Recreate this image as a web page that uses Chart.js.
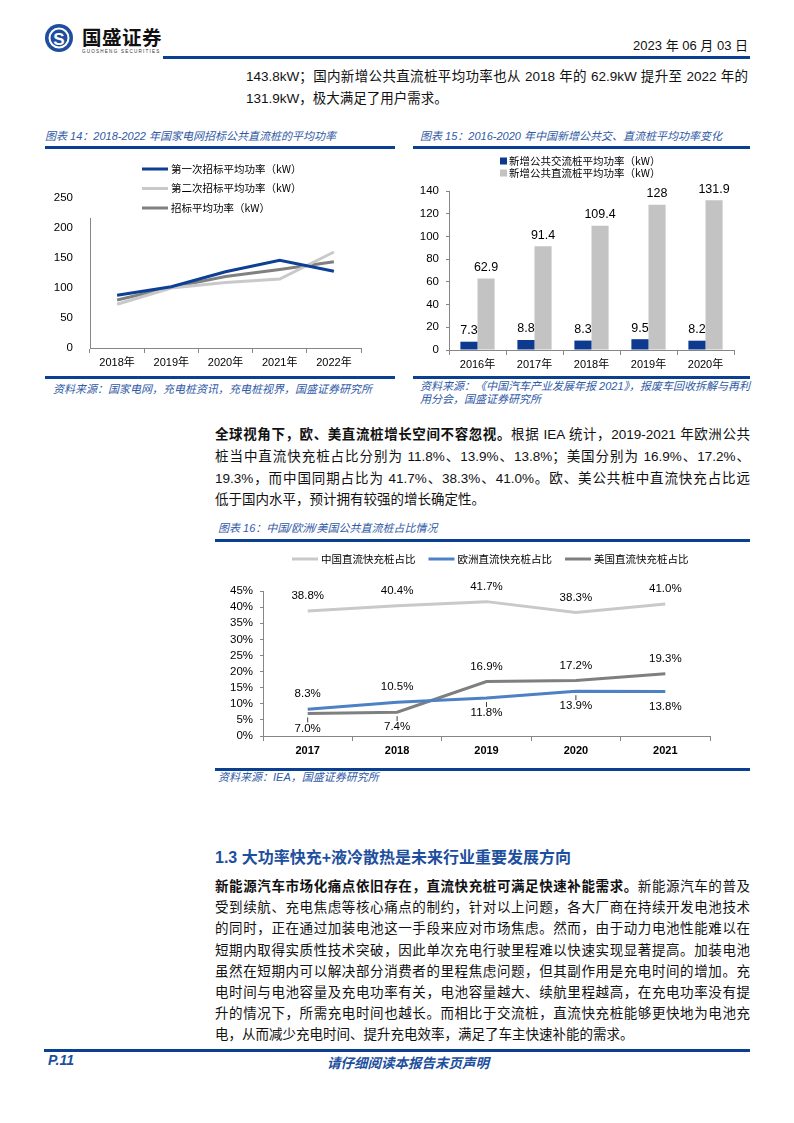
<!DOCTYPE html>
<html>
<head>
<meta charset="utf-8">
<script src="https://cdn.jsdelivr.net/npm/chart.js@4.4.0/dist/chart.umd.min.js"></script>
<style>
body { margin: 0; width: 794px; height: 1123px; position: relative; background: #fff; color: #111;
  font-family: 'Liberation Sans', 'Noto Sans CJK SC', sans-serif; }
.rule { position: absolute; height: 2.5px; background: #0b3f91; }
.cap { position: absolute; font-size: 11px; font-style: italic; color: #2f5aa6; white-space: nowrap; line-height: 13px; }
.para { position: absolute; font-size: 13.5px; line-height: 21.8px; }
.para div { text-align: justify; text-align-last: justify; white-space: nowrap; }
.para div.last { text-align-last: left; }
canvas { position: absolute; }
</style>
</head>
<body>

<!-- header -->
<svg style="position:absolute;left:40px;top:22px" width="130" height="36">
  <circle cx="19" cy="16" r="14" fill="#1f4ea0"/>
  <circle cx="19" cy="16" r="9.5" fill="none" stroke="#fff" stroke-width="2"/>
  <text x="19" y="22.5" text-anchor="middle" font-size="17" font-weight="bold" fill="#fff" font-family="Liberation Sans">S</text>
  <text x="42" y="23" font-size="19.5" font-weight="bold" fill="#111" font-family="Noto Sans CJK SC" letter-spacing="0.5">国盛证券</text>
  <text x="42" y="31" font-size="4.6" fill="#333" font-family="Liberation Sans" letter-spacing="1.2">GUOSHENG SECURITIES</text>
</svg>
<div style="position:absolute;right:46px;top:38px;font-size:13px;line-height:16px">2023 年 06 月 03 日</div>
<div class="rule" style="left:163px;width:587px;top:56px"></div>

<div class="para" style="left:246px;width:502px;top:66px">
  <div>143.8kW；国内新增公共直流桩平均功率也从 2018 年的 62.9kW 提升至 2022 年的</div>
  <div class="last">131.9kW，极大满足了用户需求。</div>
</div>

<!-- figure 14 -->
<div class="cap" style="left:45px;top:130px">图表 14：2018-2022 年国家电网招标公共直流桩的平均功率</div>
<div class="rule" style="left:45px;width:350px;top:146px"></div>
<canvas id="c14" width="350" height="225" style="left:45px;top:150px"></canvas>
<div class="rule" style="left:45px;width:350px;top:376px"></div>
<div class="cap" style="left:53px;top:383px">资料来源：国家电网，充电桩资讯，充电桩视界，国盛证券研究所</div>

<!-- figure 15 -->
<div class="cap" style="left:420px;top:130px">图表 15：2016-2020 年中国新增公共交、直流桩平均功率变化</div>
<div class="rule" style="left:413px;width:337px;top:146px"></div>
<canvas id="c15" width="337" height="225" style="left:413px;top:150px"></canvas>
<div class="rule" style="left:413px;width:337px;top:376px"></div>
<div class="cap" style="left:420px;top:379.5px">资料来源：《中国汽车产业发展年报 2021》，报废车回收拆解与再利<br>用分会，国盛证券研究所</div>

<div class="para" style="left:215px;width:535px;top:424px">
  <div><b>全球视角下，欧、美直流桩增长空间不容忽视。</b>根据 IEA 统计，2019-2021 年欧洲公共</div>
  <div>桩当中直流快充桩占比分别为 11.8%、13.9%、13.8%；美国分别为 16.9%、17.2%、</div>
  <div>19.3%，而中国同期占比为 41.7%、38.3%、41.0%。欧、美公共桩中直流快充占比远</div>
  <div class="last">低于国内水平，预计拥有较强的增长确定性。</div>
</div>

<!-- figure 16 -->
<div class="cap" style="left:218px;top:522px">图表 16：中国/欧洲/美国公共直流桩占比情况</div>
<div class="rule" style="left:215px;width:535px;top:539px"></div>
<canvas id="c16" width="535" height="222" style="left:215px;top:545px"></canvas>
<div class="rule" style="left:215px;width:535px;top:768px"></div>
<div class="cap" style="left:218px;top:771px">资料来源：IEA，国盛证券研究所</div>

<div style="position:absolute;left:215px;top:847px;font-size:16px;line-height:22px;font-weight:bold;color:#1d4f9e">1.3 大功率快充+液冷散热是未来行业重要发展方向</div>

<div class="para" style="left:215px;width:535px;top:876px;line-height:21.2px">
  <div><b>新能源汽车市场化痛点依旧存在，直流快充桩可满足快速补能需求。</b>新能源汽车的普及</div>
  <div>受到续航、充电焦虑等核心痛点的制约，针对以上问题，各大厂商在持续开发电池技术</div>
  <div>的同时，正在通过加装电池这一手段来应对市场焦虑。然而，由于动力电池性能难以在</div>
  <div>短期内取得实质性技术突破，因此单次充电行驶里程难以快速实现显著提高。加装电池</div>
  <div>虽然在短期内可以解决部分消费者的里程焦虑问题，但其副作用是充电时间的增加。充</div>
  <div>电时间与电池容量及充电功率有关，电池容量越大、续航里程越高，在充电功率没有提</div>
  <div>升的情况下，所需充电时间也越长。而相比于交流桩，直流快充桩能够更快地为电池充</div>
  <div class="last">电，从而减少充电时间、提升充电效率，满足了车主快速补能的需求。</div>
</div>

<!-- footer -->
<div class="rule" style="left:44px;width:706px;top:1049px"></div>
<div style="position:absolute;left:48px;top:1052px;font-size:14px;font-weight:bold;font-style:italic;color:#1d4f9e">P.11</div>
<div style="position:absolute;left:327px;top:1052px;font-size:13.5px;font-weight:bold;font-style:italic;color:#1d4f9e">请仔细阅读本报告末页声明</div>

<script>
// figure 14: bid average power
const years14 = ['2018年', '2019年', '2020年', '2021年', '2022年'];
const firstBid = [88, 102, 127, 146, 128];
const secondBid = [73, 100, 109, 115, 160];
const avgBid = [80, 101, 119, 131, 143.8];

// figure 15: new public AC / DC charger power
const years15 = ['2016年', '2017年', '2018年', '2019年', '2020年'];
const acPower = [7.3, 8.8, 8.3, 9.5, 8.2];
const dcPower = [62.9, 91.4, 109.4, 128, 131.9];

// figure 16: DC fast charger share
const years16 = ['2017', '2018', '2019', '2020', '2021'];
const chinaShare = [38.8, 40.4, 41.7, 38.3, 41.0];
const europeShare = [8.3, 10.5, 11.8, 13.9, 13.8];
const usShare = [7.0, 7.4, 16.9, 17.2, 19.3];

Chart.defaults.font.family = "'Liberation Sans', 'Noto Sans CJK SC', sans-serif";
Chart.defaults.color = '#000';

const axisGray = '#868686';

// legend drawn by hand so it can sit inside the plot like the original
const keyLegend = {
  id: 'keyLegend',
  afterDraw(chart, args, o) {
    const ctx = chart.ctx;
    ctx.save();
    if (o.cover) {
      ctx.fillStyle = '#fff';
      ctx.fillRect(o.cover[0], o.cover[1], o.cover[2], o.cover[3]);
    }
    ctx.font = o.font;
    ctx.textBaseline = 'middle';
    ctx.textAlign = 'left';
    chart.data.datasets.forEach((ds, i) => {
      const x = o.x + o.dx * i, y = o.y + o.dy * i;
      if (o.box) {
        ctx.fillStyle = ds.backgroundColor;
        ctx.fillRect(x, y - o.box / 2, o.box, o.box);
      } else {
        ctx.strokeStyle = ds.borderColor;
        ctx.lineWidth = ds.borderWidth;
        ctx.beginPath();
        ctx.moveTo(x, y);
        ctx.lineTo(x + o.len, y);
        ctx.stroke();
      }
      ctx.fillStyle = '#000';
      ctx.fillText(ds.label, x + (o.box || o.len) + o.gap, y);
    });
    ctx.restore();
  }
};

// value labels above / below each point or bar
const valueLabels = {
  id: 'valueLabels',
  afterDatasetsDraw(chart, args, o) {
    const ctx = chart.ctx;
    ctx.save();
    ctx.font = o.font;
    ctx.fillStyle = '#000';
    ctx.textAlign = 'center';
    ctx.textBaseline = 'middle';
    chart.data.datasets.forEach((ds, i) => {
      chart.getDatasetMeta(i).data.forEach((el, j) => {
        const v = ds.data[j];
        const txt = (o.fixed != null ? v.toFixed(o.fixed) : String(v)) + (o.suffix || '');
        const below = ds.labelPos && ds.labelPos[j] === 'b';
        ctx.fillText(txt, el.x, below ? el.y + o.gap : el.y - o.gap);
        if (ds.leader && ds.leader[j]) {
          ctx.strokeStyle = '#404040';
          ctx.lineWidth = 1;
          ctx.beginPath();
          const d = below ? 1 : -1;
          ctx.moveTo(el.x, el.y + 4 * d);
          ctx.lineTo(el.x, el.y + 9 * d);
          ctx.stroke();
        }
      });
    });
    ctx.restore();
  }
};

const lineStyle = { borderWidth: 3, pointRadius: 0, tension: 0, fill: false };

new Chart(document.getElementById('c14'), {
  type: 'line',
  data: {
    labels: years14,
    datasets: [
      { label: '第一次招标平均功率（kW）', data: firstBid, borderColor: '#0d3f94', ...lineStyle },
      { label: '第二次招标平均功率（kW）', data: secondBid, borderColor: '#c9c9c9', ...lineStyle },
      { label: '招标平均功率（kW）', data: avgBid, borderColor: '#808080', ...lineStyle }
    ]
  },
  options: {
    responsive: false,
    animation: false,
    layout: { padding: { top: 48, right: 34, left: 0, bottom: 0 } },
    plugins: {
      legend: { display: false },
      tooltip: { enabled: false },
      keyLegend: { x: 97, y: 19, dx: 0, dy: 19.5, len: 26, gap: 3, font: "10.5px 'Noto Sans CJK SC'", cover: [40, 0, 260, 68] }
    },
    scales: {
      x: {
        offset: true,
        grid: { offset: true, drawOnChartArea: false, tickLength: 5, color: axisGray },
        border: { color: axisGray },
        ticks: { font: { size: 11 }, padding: 3 },
        afterFit(s) { s.height = 27; }
      },
      y: {
        min: 0, max: 250,
        grid: { display: false },
        border: { color: axisGray },
        ticks: { stepSize: 50, autoSkip: false, font: { size: 11.5 }, padding: 9 },
        afterFit(s) { s.width = 45; }
      }
    }
  },
  plugins: [keyLegend]
});

new Chart(document.getElementById('c15'), {
  type: 'bar',
  data: {
    labels: years15,
    datasets: [
      { label: '新增公共交流桩平均功率（kW）', data: acPower, backgroundColor: '#0d3a8e' },
      { label: '新增公共直流桩平均功率（kW）', data: dcPower, backgroundColor: '#c3c3c3' }
    ]
  },
  options: {
    responsive: false,
    animation: false,
    categoryPercentage: 0.6,
    barPercentage: 1,
    layout: { padding: { top: 41, right: 16, left: 0, bottom: 0 } },
    plugins: {
      legend: { display: false },
      tooltip: { enabled: false },
      keyLegend: { x: 87, y: 11, dx: 0, dy: 12, box: 7, gap: 2, font: "10.5px 'Noto Sans CJK SC'" },
      valueLabels: { gap: 11, font: "12.5px 'Liberation Sans'" }
    },
    scales: {
      x: {
        grid: { drawOnChartArea: false, tickLength: 5, color: axisGray },
        border: { color: axisGray },
        ticks: { font: { size: 11 }, padding: 3 },
        afterFit(s) { s.height = 25; }
      },
      y: {
        min: 0, max: 140,
        grid: { drawOnChartArea: false, tickLength: 3, color: axisGray },
        border: { color: axisGray },
        ticks: { stepSize: 20, autoSkip: false, font: { size: 11.5 }, padding: 7 },
        afterFit(s) { s.width = 36; }
      }
    }
  },
  plugins: [keyLegend, valueLabels]
});

new Chart(document.getElementById('c16'), {
  type: 'line',
  data: {
    labels: years16,
    datasets: [
      { label: '中国直流快充桩占比', data: chinaShare, borderColor: '#c9c9c9', ...lineStyle,
        labelPos: ['t', 't', 't', 't', 't'] },
      { label: '欧洲直流快充桩占比', data: europeShare, borderColor: '#4e80c4', ...lineStyle,
        labelPos: ['t', 't', 'b', 'b', 'b'], leader: [0, 0, 1, 1, 0] },
      { label: '美国直流快充桩占比', data: usShare, borderColor: '#7f7f7f', ...lineStyle,
        labelPos: ['b', 'b', 't', 't', 't'], leader: [1, 1, 0, 0, 0] }
    ]
  },
  options: {
    responsive: false,
    animation: false,
    layout: { padding: { top: 46, right: 40, left: 0, bottom: 0 } },
    plugins: {
      legend: { display: false },
      tooltip: { enabled: false },
      keyLegend: { x: 77, y: 14, dx: 136.5, dy: 0, len: 26, gap: 3, font: "10.5px 'Noto Sans CJK SC'" },
      valueLabels: { gap: 15, fixed: 1, suffix: '%', font: "11.5px 'Liberation Sans'" }
    },
    scales: {
      x: {
        offset: true,
        grid: { offset: true, drawOnChartArea: false, tickLength: 5, color: axisGray },
        border: { color: axisGray },
        ticks: { font: { size: 11, weight: 'bold' }, padding: 3 },
        afterFit(s) { s.height = 31; }
      },
      y: {
        min: 0, max: 45,
        grid: { drawOnChartArea: false, tickLength: 3, color: axisGray },
        border: { color: axisGray },
        ticks: { stepSize: 5, autoSkip: false, font: { size: 11.5 }, padding: 7, callback: v => v + '%' },
        afterFit(s) { s.width = 48; }
      }
    }
  },
  plugins: [keyLegend, valueLabels]
});
</script>
</body>
</html>
